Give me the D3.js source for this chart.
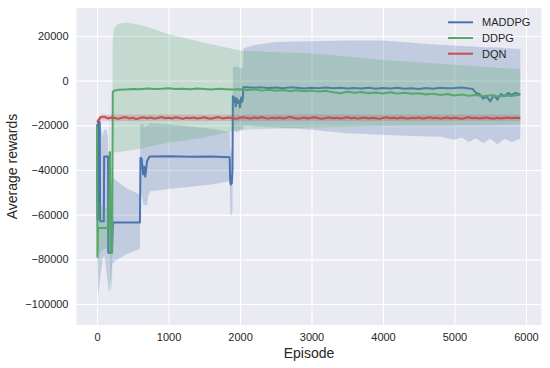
<!DOCTYPE html>
<html><head><meta charset="utf-8">
<script src="https://cdn.jsdelivr.net/npm/d3@7"></script>
<style>
body{margin:0;background:#fff}
text{font-family:"Liberation Sans",Arial,sans-serif}
</style>
</head><body>
<svg id="c" width="550" height="368"></svg>
<script>
// ---------- data ----------
const xTicks = [0, 1000, 2000, 3000, 4000, 5000, 6000];
const yTicks = [-100000, -80000, -60000, -40000, -20000, 0, 20000];
const seriesNames = ["MADDPG", "DDPG", "DQN"];
const seriesColors = ["#4C72B0", "#55A868", "#C44E52"];

// MADDPG mean
const maddpgEp = [0,6,14,20,38,44,95,100,154,158,200,210,222,600,608,625,645,660,675,700,735,1000,1300,1600,1855,1862,1870,1885,1895,1900,1915,1925,1940,1955,1970,1985,2000,2015,2030,2040,2046,
  2100,2200,2300,2400,2500,2600,2700,2800,2900,3000,3100,3200,3300,3400,3500,3600,3700,3800,3900,4000,4100,4200,4300,4400,4500,4600,4700,4800,4900,5000,5100,5200,
  5250,5300,5350,5400,5450,5500,5550,5600,5650,5700,5750,5800,5850,5900,5920];
const maddpgVal = [-19500,-62000,-62000,-18500,-18500,-63000,-63000,-34000,-34000,-77000,-77000,-75000,-63500,-63500,-34500,-35000,-42000,-38500,-43000,-36000,-34000,-33800,-34100,-34000,-34300,-44000,-46500,-46000,-40000,-7000,-9500,-7500,-11500,-8000,-10000,-9000,-12000,-7500,-9500,-8000,-3000,
  -2900,-3200,-3000,-3300,-3100,-3400,-3000,-3200,-3500,-3200,-3400,-3100,-3400,-3200,-3500,-3300,-3500,-3200,-3600,-3300,-3500,-3200,-3600,-3400,-3700,-3300,-3600,-3200,-3400,-3300,-3100,-3500,
  -3600,-5500,-6000,-8000,-7000,-9300,-6500,-8500,-6000,-7000,-5500,-6500,-5500,-6000,-6200];
// MADDPG band
const maddpgBandEp = [0,8,15,30,45,80,100,130,150,165,180,200,215,240,300,400,500,600,605,630,650,670,700,720,750,1000,1300,1600,1840,1855,1865,1880,1895,1900,1950,2000,2040,2050,2200,2500,3000,3500,4000,4400,4800,5000,5100,5200,5300,5400,5500,5600,5700,5800,5920];
const maddpgLo = [-22000,-70000,-97000,-92000,-88000,-80000,-78000,-85000,-90000,-95000,-93000,-86000,-82000,-81000,-80000,-78000,-76500,-75500,-50000,-52000,-56000,-55500,-56000,-51000,-49500,-48500,-47500,-46500,-45000,-45500,-60000,-60500,-58000,-22000,-23000,-22500,-22000,-20000,-20500,-21000,-22000,-23500,-24200,-24800,-25100,-26500,-25500,-27500,-25800,-28000,-26000,-28500,-26000,-27500,-26000];
const maddpgHi = [-18000,-17000,-17500,-16500,-20000,-25000,-22000,-22000,-25000,-50000,-55000,-45000,-43000,-44000,-45500,-48000,-49500,-51000,-19000,-20000,-19000,-21000,-20000,-19500,-19000,-19500,-20500,-21500,-23000,-22500,-30000,-32000,-30000,6000,6500,5500,6000,14500,16000,17300,17700,18000,18000,17000,16100,15800,15500,15400,15200,15000,15000,14800,14600,14400,14200];

// DDPG mean
const ddpgEp = [0,6,14,170,176,182,190,212,220,240,
  300,400,500,600,700,800,900,1000,1100,1200,1300,1400,1500,1600,1700,1800,1900,2000,2100,2200,2300,2400,2500,2600,2700,2800,2900,3000,
  3100,3200,3300,3400,3500,3600,3700,3800,3900,4000,4100,4200,4300,4400,4500,4600,4700,4800,4900,5000,5100,5200,5300,5400,5500,5600,5700,5800,5900,5920];
const ddpgVal = [-20000,-79000,-66000,-66000,-32000,-32000,-77000,-77000,-5200,-4500,
  -4100,-3900,-3700,-3800,-3500,-3700,-3600,-3400,-3700,-3600,-3800,-3500,-3700,-3900,-3600,-3800,-4000,-3800,-4200,-3900,-4400,-4100,-4500,-4200,-4600,-4300,-4700,-4400,
  -4900,-4500,-5200,-5600,-5000,-5400,-5100,-5600,-5300,-5700,-5200,-5800,-5400,-5900,-5600,-6200,-5800,-6400,-6000,-6600,-6200,-6800,-6400,-7000,-6500,-7100,-6600,-6900,-6300,-6500];
// DDPG band
const ddpgBandEp = [0,6,14,60,120,170,176,190,212,220,240,300,400,600,800,1000,1500,2000,2500,3000,3500,4000,4500,5000,5500,5920];
const ddpgLo = [-24000,-105000,-80000,-76000,-75000,-76000,-60000,-95000,-90000,-31000,-32000,-32000,-31500,-30500,-29000,-27800,-25500,-22000,-21500,-21000,-20700,-20300,-20200,-20100,-20000,-19500];
const ddpgHi = [-17000,-40000,-52000,-56000,-57000,-56000,-10000,-45000,-55000,19000,23500,25500,26000,25000,23000,20800,17000,13500,12700,12300,10800,9300,8200,7100,6000,5200];

// DQN mean, one value every 50 episodes
const dqnStep = 50;
const dqnVal = [-18600,-16400,-16100,-16900,-16500,-16700,-17100,-16600,-16300,-16900,
  -16600,-17200,-16700,-16400,-16800,-16500,-17000,-16700,-16300,-16800,
  -16600,-16900,-16400,-16700,-17100,-16600,-16800,-16500,-16900,-16700,
  -16400,-16800,-17000,-16600,-16300,-16900,-16700,-16500,-16800,-17100,
  -16600,-16400,-16700,-16900,-16500,-16800,-16300,-16700,-17000,-16600,
  -16800,-16500,-16900,-16600,-16200,-16700,-17000,-16800,-16500,-16900,
  -16600,-16400,-16800,-17100,-16700,-16500,-16800,-16600,-16900,-16700,
  -16400,-16800,-16600,-17000,-16700,-16500,-16900,-16600,-16800,-17100,
  -16700,-16400,-16800,-16600,-16900,-16500,-16700,-17000,-16600,-16800,
  -16500,-16900,-16700,-16400,-16800,-16600,-17000,-16700,-16500,-16900,
  -16600,-16800,-17100,-16700,-16400,-16800,-16600,-16900,-16700,-16500,
  -16800,-17000,-16600,-16900,-16700,-16500,-16800,-16600,-16700];
// DQN band
const dqnBandEp = [0,50,500,1000,2000,3000,4000,5000,5920];
const dqnLo = [-19800,-18000,-18100,-18000,-18100,-18000,-18100,-18000,-18000];
const dqnHi = [-17400,-15200,-15300,-15200,-15300,-15200,-15300,-15200,-15300];

// ---------- chart ----------
const svg = d3.select("#c");
const L = 76.5, R = 541.5, T = 8, B = 325;
const x = d3.scaleLinear().domain([-287, 6217]).range([L, R]);
const y = d3.scaleLinear().domain([-109400, 32540]).range([B, T]);
const txtCol = "#262626";

svg.append("rect").attr("x", L).attr("y", T).attr("width", R - L).attr("height", B - T).attr("fill", "#EAEAF2");

// grid
const gx = svg.append("g").attr("transform", `translate(0,${B})`)
  .call(d3.axisBottom(x).tickValues(xTicks).tickSize(-(B - T)).tickFormat(""));
const gy = svg.append("g").attr("transform", `translate(${L},0)`)
  .call(d3.axisLeft(y).tickValues(yTicks).tickSize(-(R - L)).tickFormat(""));
[gx, gy].forEach(g => { g.select(".domain").remove(); g.selectAll("line").attr("stroke", "#fff").attr("stroke-width", 1.1); });

const plot = svg.append("g");
function bandData(ep, lo, hi) { return ep.map((e, i) => ({ e, lo: lo[i], hi: hi[i] })); }
function lineData(ep, v) { return ep.map((e, i) => ({ e, v: v[i] })); }
const area = d3.area().x(d => x(d.e)).y0(d => y(d.lo)).y1(d => y(d.hi));
const line = d3.line().x(d => x(d.e)).y(d => y(d.v));

const dqnEp = dqnVal.map((v, i) => Math.min(i * dqnStep, 5920));
const series = [
  { band: bandData(maddpgBandEp, maddpgLo, maddpgHi), line: lineData(maddpgEp, maddpgVal) },
  { band: bandData(ddpgBandEp, ddpgLo, ddpgHi), line: lineData(ddpgEp, ddpgVal) },
  { band: bandData(dqnBandEp, dqnLo, dqnHi), line: lineData(dqnEp.concat([5920]), dqnVal.concat([-16700])) }
];
series.forEach((s, i) => {
  plot.append("path").attr("d", area(s.band)).attr("fill", seriesColors[i]).attr("fill-opacity", 0.25);
  plot.append("path").attr("d", line(s.line)).attr("fill", "none").attr("stroke", seriesColors[i])
    .attr("stroke-width", 2).attr("stroke-linejoin", "round");
});

// axes labels
const fmt = d => d < 0 ? "\u2212" + Math.abs(d) : String(d);
const ax = svg.append("g").attr("transform", `translate(0,${B})`)
  .call(d3.axisBottom(x).tickValues(xTicks).tickSize(0).tickPadding(8).tickFormat(fmt));
const ay = svg.append("g").attr("transform", `translate(${L},0)`)
  .call(d3.axisLeft(y).tickValues(yTicks).tickSize(0).tickPadding(8).tickFormat(fmt));
[ax, ay].forEach(g => {
  g.select(".domain").remove();
  g.selectAll("text").attr("fill", txtCol).style("font-size", "11px").style("font-family", '"Liberation Sans",Arial,sans-serif');
});

svg.append("text").attr("x", (L + R) / 2).attr("y", 358).attr("text-anchor", "middle")
  .attr("fill", txtCol).style("font-size", "14px").text("Episode");
svg.append("text").attr("transform", `translate(17,${(T + B) / 2}) rotate(-90)`).attr("text-anchor", "middle")
  .attr("fill", txtCol).style("font-size", "14px").text("Average rewards");

// legend
const lg = svg.append("g");
seriesNames.forEach((n, i) => {
  const yy = 22.3 + i * 15.7;
  lg.append("line").attr("x1", 448).attr("x2", 473).attr("y1", yy).attr("y2", yy)
    .attr("stroke", seriesColors[i]).attr("stroke-width", 2);
  lg.append("text").attr("x", 482).attr("y", yy).attr("dy", "0.35em").attr("fill", txtCol)
    .style("font-size", "11px").text(n);
});
</script>
</body></html>
